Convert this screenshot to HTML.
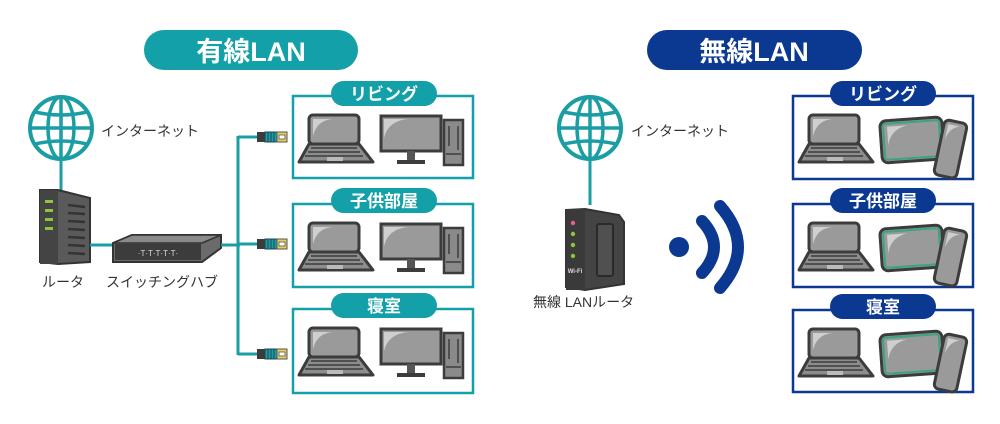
<!DOCTYPE html>
<html><head><meta charset="utf-8"><style>
html,body{margin:0;padding:0;background:#fff;width:1000px;height:424px;overflow:hidden}
svg text{font-family:"Liberation Sans","Noto Sans CJK JP",sans-serif}
</style></head><body>
<svg width="1000" height="424" viewBox="0 0 1000 424" xmlns="http://www.w3.org/2000/svg">
<defs>
<g id="laptop">
  <rect x="16" y="19" width="50" height="29" rx="4" fill="#9a9a9a" stroke="#3c3c3c" stroke-width="3"/>
  <path d="M20 40 Q24 24 40 23 L20 23 Z" fill="#cfcfcf"/>
  <path d="M16 48 L66 48 L80 66 L6 66 Z" fill="#8d8d8d" stroke="#3c3c3c" stroke-width="3" stroke-linejoin="round"/>
  <path d="M18 52 H64 M15 56 H67 M12 60 H70" stroke="#3c3c3c" stroke-width="1.5"/>
  <rect x="34" y="61" width="16" height="4" fill="#bbb"/>
</g>
<g id="desktop">
  <rect x="88" y="20" width="60" height="35" fill="#9a9a9a" stroke="#3c3c3c" stroke-width="3"/>
  <path d="M91 42 Q95 25 115 23 L91 23 Z" fill="#cfcfcf"/>
  <rect x="114" y="55" width="8" height="10" fill="#555"/>
  <rect x="104" y="64" width="28" height="4" fill="#3c3c3c"/>
  <rect x="151" y="24" width="19" height="45" fill="#8a8a8a" stroke="#3c3c3c" stroke-width="2.5"/>
  <path d="M156 30 V50 M165 30 V54 M153 58 H168" stroke="#3c3c3c" stroke-width="1.5"/>
</g>
<g id="mobile">
  <g transform="rotate(-4 119 44)">
  <rect x="88" y="23" width="62" height="42" rx="6" fill="#9a9a9a" stroke="#3c3c3c" stroke-width="3"/>
  <rect x="91" y="26" width="56" height="36" rx="3" fill="none" stroke="#3aa57f" stroke-width="2"/>
  <path d="M95 48 Q98 32 115 29 L95 29 Z" fill="#cfcfcf"/>
  </g>
  <g transform="rotate(12 157 53)">
  <rect x="146" y="25" width="23" height="56" rx="5" fill="#9a9a9a" stroke="#3c3c3c" stroke-width="3"/>
  <path d="M150 45 Q152 32 162 29 L150 29 Z" fill="#cfcfcf"/>
  </g>
</g>
<g id="plug">
  <rect x="0" y="-5" width="8" height="10" fill="#3c3c3c"/>
  <rect x="8" y="-5" width="12" height="10" fill="#1a9ea3" stroke="#245" stroke-width="1"/>
  <path d="M11 -5 V5 M14 -5 V5 M17 -5 V5" stroke="#245" stroke-width="1"/>
  <rect x="20" y="-5" width="10" height="10" fill="#e8d060" stroke="#555" stroke-width="1"/>
  <rect x="22" y="-2" width="6" height="4" fill="#fff" stroke="#555" stroke-width="0.8"/>
</g>
<g id="globe">
  <circle cx="0" cy="0" r="31" fill="none" stroke="#1a9ea3" stroke-width="4"/>
  <ellipse cx="0" cy="0" rx="13" ry="31" fill="none" stroke="#1a9ea3" stroke-width="3.5"/>
  <line x1="0" y1="-31" x2="0" y2="31" stroke="#1a9ea3" stroke-width="3.5"/>
  <line x1="-31" y1="0" x2="31" y2="0" stroke="#1a9ea3" stroke-width="3.5"/>
  <path d="M-26 -16 Q0 -10 26 -16 M-26 16 Q0 10 26 16" fill="none" stroke="#1a9ea3" stroke-width="3.5"/>
</g>
</defs>

<!-- Titles -->
<rect x="144" y="30" width="214" height="40" rx="20" fill="#13a0a8"/>
<text x="251" y="61" font-size="27" font-weight="bold" fill="#fff" text-anchor="middle">有線LAN</text>
<rect x="647" y="30" width="215" height="40" rx="20" fill="#0b3891"/>
<text x="754" y="61" font-size="27" font-weight="bold" fill="#fff" text-anchor="middle">無線LAN</text>

<!-- LEFT -->
<use href="#globe" x="61" y="128"/>
<line x1="61" y1="159" x2="61" y2="190" stroke="#1a9ea3" stroke-width="3"/>
<text x="101" y="136" font-size="14" fill="#333">インターネット</text>
<!-- router -->
<path d="M40 190 L58 190 L90 198 L90 262 L58 264 L40 262 Z" fill="#5a5a5a" stroke="#333" stroke-width="2"/>
<rect x="40" y="190" width="18" height="74" fill="#444"/>
<g fill="#8cc63f"><rect x="45" y="200" width="8" height="3"/><rect x="45" y="209" width="8" height="3"/><rect x="45" y="218" width="8" height="3"/><rect x="45" y="227" width="8" height="3"/></g>
<g stroke="#333" stroke-width="2.5"><line x1="68" y1="205" x2="85" y2="207"/><line x1="68" y1="213" x2="85" y2="214"/><line x1="68" y1="221" x2="85" y2="222"/><line x1="68" y1="229" x2="85" y2="230"/><line x1="68" y1="237" x2="85" y2="238"/><line x1="68" y1="245" x2="85" y2="246"/><line x1="68" y1="253" x2="85" y2="254"/></g>
<text x="42" y="287" font-size="14" fill="#333">ルータ</text>
<line x1="90" y1="245" x2="115" y2="245" stroke="#1a9ea3" stroke-width="3"/>
<!-- switch -->
<path d="M113 243 L132 235 L221 235 L221 248 L202 262 L113 262 Z" fill="#6b6b6b" stroke="#333" stroke-width="2"/>
<path d="M113 243 L132 235 L221 235 L202 243 Z" fill="#8a8a8a" stroke="#333" stroke-width="1.5"/>
<rect x="115" y="244" width="86" height="16" fill="#3c3c3c"/>
<text x="158" y="256" font-size="8" fill="#ddd" text-anchor="middle">·T·T·T·T·T·</text>
<text x="106" y="287" font-size="14" fill="#333">スイッチングハブ</text>
<line x1="221" y1="245" x2="240" y2="245" stroke="#1a9ea3" stroke-width="3"/>
<line x1="238" y1="136" x2="238" y2="355" stroke="#1a9ea3" stroke-width="3"/>
<line x1="238" y1="137" x2="258" y2="137" stroke="#1a9ea3" stroke-width="3"/>
<line x1="238" y1="244" x2="258" y2="244" stroke="#1a9ea3" stroke-width="3"/>
<line x1="238" y1="354" x2="258" y2="354" stroke="#1a9ea3" stroke-width="3"/>
<use href="#plug" x="257" y="137"/>
<use href="#plug" x="257" y="244"/>
<use href="#plug" x="257" y="354"/>

<!-- left boxes -->
<g fill="none" stroke="#13a0a8" stroke-width="2.5">
<rect x="293" y="96" width="180" height="82"/>
<rect x="293" y="204" width="180" height="83"/>
<rect x="293" y="309" width="180" height="84"/>
</g>
<g fill="#13a0a8">
<rect x="331" y="81" width="106" height="25" rx="12.5"/>
<rect x="331" y="188" width="106" height="25" rx="12.5"/>
<rect x="331" y="293" width="106" height="25" rx="12.5"/>
</g>
<g font-size="17" font-weight="bold" fill="#fff" text-anchor="middle">
<text x="384" y="100">リビング</text><text x="384" y="207">子供部屋</text><text x="384" y="312">寝室</text>
</g>
<use href="#laptop" x="293" y="96"/><use href="#desktop" x="293" y="96"/>
<use href="#laptop" x="293" y="204"/><use href="#desktop" x="293" y="204"/>
<use href="#laptop" x="293" y="309"/><use href="#desktop" x="293" y="309"/>

<!-- RIGHT -->
<use href="#globe" x="590" y="128"/>
<line x1="590" y1="159" x2="590" y2="205" stroke="#1a9ea3" stroke-width="3"/>
<text x="631" y="136" font-size="14" fill="#333">インターネット</text>
<!-- wifi router -->
<path d="M566 210 L585 209 L619 215 L624 222 L624 284 L585 290 L566 287 Z" fill="#444" stroke="#333" stroke-width="2"/>
<rect x="566" y="209" width="19" height="81" fill="#3a3a3a"/>
<rect x="597" y="224" width="16" height="52" rx="2" fill="#505050" stroke="#2a2a2a" stroke-width="2"/>
<circle cx="573" cy="223" r="2.2" fill="#e85d9a"/>
<circle cx="573" cy="234" r="2.2" fill="#8cc63f"/>
<circle cx="573" cy="245" r="2.2" fill="#8cc63f"/>
<circle cx="573" cy="256" r="2.2" fill="#8cc63f"/>
<text x="575" y="273" font-size="6" font-weight="bold" fill="#ddd" text-anchor="middle">Wi-Fi</text>
<text x="533" y="307" font-size="14" fill="#333">無線 LANルータ</text>
<!-- wifi symbol -->
<circle cx="679" cy="247" r="10" fill="#0b3891"/>
<path d="M702 221 Q726 247 702 273" fill="none" stroke="#0b3891" stroke-width="12" stroke-linecap="round"/>
<path d="M720 206 Q756 247 720 288" fill="none" stroke="#0b3891" stroke-width="12" stroke-linecap="round"/>

<g fill="none" stroke="#0b3891" stroke-width="2.5">
<rect x="793" y="96" width="180" height="83"/>
<rect x="793" y="204" width="180" height="83"/>
<rect x="793" y="310" width="180" height="82"/>
</g>
<g fill="#0b3891">
<rect x="830" y="81" width="106" height="25" rx="12.5"/>
<rect x="830" y="188" width="106" height="25" rx="12.5"/>
<rect x="830" y="294" width="106" height="25" rx="12.5"/>
</g>
<g font-size="17" font-weight="bold" fill="#fff" text-anchor="middle">
<text x="883" y="100">リビング</text><text x="883" y="207">子供部屋</text><text x="883" y="313">寝室</text>
</g>
<use href="#laptop" x="793" y="96"/><use href="#mobile" x="793" y="96"/>
<use href="#laptop" x="793" y="204"/><use href="#mobile" x="793" y="204"/>
<use href="#laptop" x="793" y="310"/><use href="#mobile" x="793" y="310"/>
</svg>
</body></html>
